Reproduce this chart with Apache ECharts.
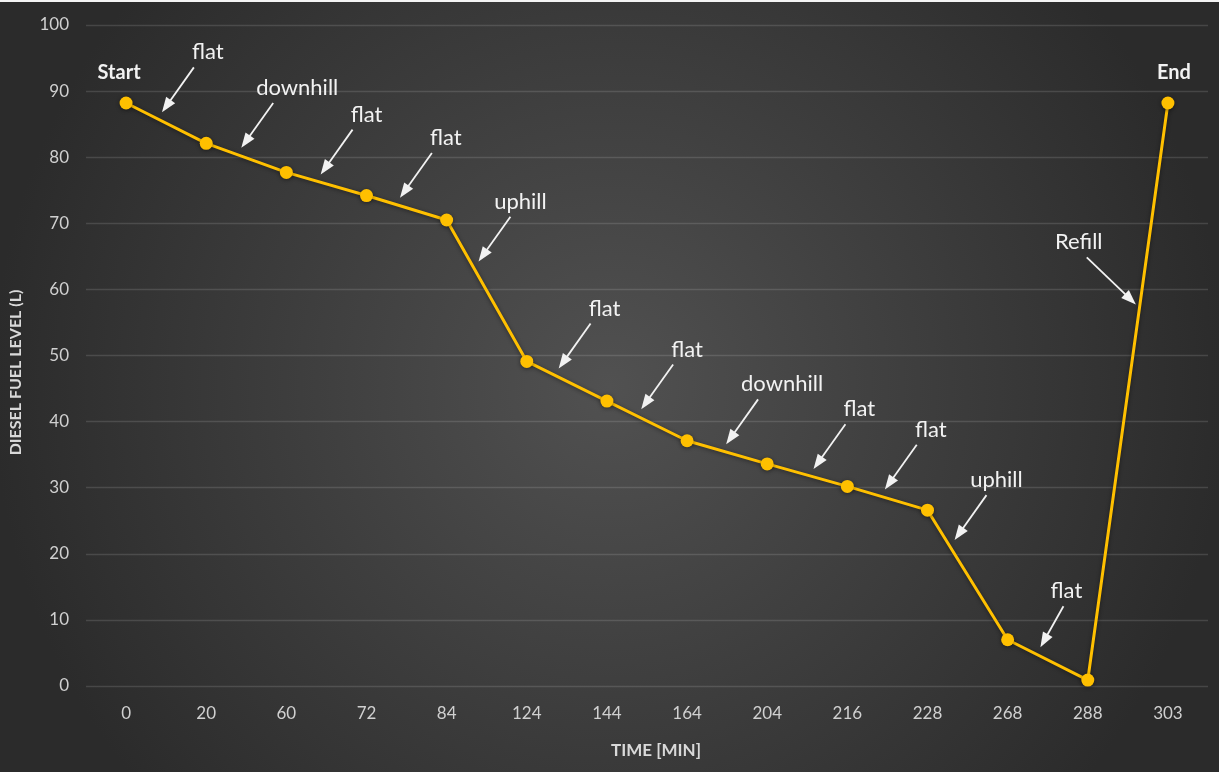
<!DOCTYPE html>
<html>
<head>
<meta charset="utf-8">
<script src="https://cdn.jsdelivr.net/npm/echarts@6/dist/echarts.min.js"></script>
<style>
  html, body { margin: 0; padding: 0; background: #3a3a3a; }
  #chart { width: 1219px; height: 772px; }
</style>
</head>
<body>
<div id="chart"></div>
<script>
// Elapsed time (minutes) at each reading
var timeLabels = ['0', '20', '60', '72', '84', '124', '144', '164', '204', '216', '228', '268', '288', '303'];
// Diesel fuel level (litres) at each reading
var fuelLevel = [88.2, 82.1, 77.7, 74.2, 70.5, 49.1, 43.1, 37.1, 33.6, 30.2, 26.6, 7.0, 0.9, 88.2];
// Terrain notes, each attached to the segment that starts at the given reading
var noteText = ['flat', 'downhill', 'flat', 'flat', 'uphill', 'flat', 'flat', 'downhill', 'flat', 'flat', 'uphill', 'flat', 'Refill'];
var noteSegment = [0, 1, 2, 3, 4, 5, 6, 7, 8, 9, 10, 11, 12];
// Where along each segment the pointer lands (0 = segment start, 1 = end)
var noteAlong = [0.39, 0.38, 0.37, 0.36, 0.34, 0.34, 0.37, 0.43, 0.52, 0.41, 0.28, 0.36, 0.645];

var chart = echarts.init(document.getElementById('chart'));

var LABEL_FONT = 'Lato, "Open Sans", sans-serif';
// horizontal offset of a note's text from the pointer tail
var TEXT_SHIFT = { flat: 14, downhill: 24, uphill: 10, Refill: -8 };

// Pointer geometry: direction (tail -> tip), length, gap before the line
function pointerStyle(k) {
  var shift = TEXT_SHIFT[noteText[k]];
  if (noteText[k] === 'Refill') return { dx: 0.722, dy: 0.692, len: 68, gap: 5, shift: shift };
  if (k === noteText.length - 2) return { dx: -0.49, dy: 0.872, len: 47, gap: 8, shift: 3 };
  return { dx: -0.58, dy: 0.815, len: 55, gap: 8, shift: shift };
}

function renderNote(params, api) {
  var k = params.dataIndex;
  var seg = noteSegment[k];
  var a = api.coord([seg, fuelLevel[seg]]);
  var b = api.coord([seg + 1, fuelLevel[seg + 1]]);
  var t = noteAlong[k];
  var px = a[0] + (b[0] - a[0]) * t;
  var py = a[1] + (b[1] - a[1]) * t;
  var s = pointerStyle(k);
  var dx = s.dx, dy = s.dy;
  var tipX = px - s.gap * dx, tipY = py - s.gap * dy;
  var tailX = tipX - s.len * dx, tailY = tipY - s.len * dy;
  var headLen = 15, headHalf = 5.5;
  var bx = tipX - headLen * dx, by = tipY - headLen * dy;
  var nx = -dy, ny = dx;
  return {
    type: 'group',
    children: [
      {
        type: 'line',
        shape: { x1: tailX, y1: tailY, x2: bx + 3 * dx, y2: by + 3 * dy },
        style: { stroke: '#f2f2f2', lineWidth: 1.8 }
      },
      {
        type: 'polygon',
        shape: { points: [[tipX, tipY], [bx + headHalf * nx, by + headHalf * ny], [bx - headHalf * nx, by - headHalf * ny]] },
        style: { fill: '#f2f2f2' }
      },
      {
        type: 'text',
        style: {
          text: noteText[k],
          x: tailX + s.shift,
          y: tailY - 4,
          fill: '#f2f2f2',
          font: '22px ' + LABEL_FONT,
          align: 'center',
          verticalAlign: 'bottom'
        }
      }
    ]
  };
}

var pointData = fuelLevel.map(function (v, i) {
  var item = { value: v };
  if (i === 0) {
    item.label = { show: true, formatter: 'Start', offset: [-7, -9] };
  } else if (i === fuelLevel.length - 1) {
    item.label = { show: true, formatter: 'End', offset: [6, -9] };
  }
  return item;
});

chart.setOption({
  animation: false,
  backgroundColor: {
    type: 'radial', x: 0.5, y: 0.5, r: 0.8,
    colorStops: [
      { offset: 0, color: '#515151' },
      { offset: 1, color: '#2b2b2b' }
    ]
  },
  graphic: [{
    type: 'rect', left: 0, top: 0, shape: { width: 1219, height: 2 },
    style: { fill: '#f4f4f4' }, silent: true
  }],
  grid: { left: 85, right: 11, top: 25, bottom: 86 },
  xAxis: {
    type: 'category',
    data: timeLabels,
    boundaryGap: true,
    name: 'TIME [MIN]',
    nameLocation: 'middle',
    nameGap: 56,
    nameTextStyle: { color: '#d9d9d9', fontSize: 17, fontWeight: 'bold', fontFamily: LABEL_FONT, padding: [0, 0, 0, 18] },
    axisLine: { show: false },
    axisTick: { show: false },
    axisLabel: { color: '#d0d0d0', fontSize: 17, margin: 19, fontFamily: LABEL_FONT },
    splitLine: { show: false }
  },
  yAxis: {
    type: 'value',
    min: 0, max: 100, interval: 10,
    name: 'DIESEL FUEL LEVEL (L)',
    nameLocation: 'middle',
    nameGap: 62,
    nameRotate: 90,
    nameTextStyle: { color: '#d9d9d9', fontSize: 16, fontWeight: 'bold', fontFamily: LABEL_FONT, padding: [0, 34, 0, 0] },
    axisLine: { show: false },
    axisTick: { show: false },
    axisLabel: { color: '#d0d0d0', fontSize: 17, margin: 17, fontFamily: LABEL_FONT },
    splitLine: { lineStyle: { color: 'rgba(255,255,255,0.13)', width: 1.3 } }
  },
  series: [
    {
      type: 'line',
      data: pointData,
      symbol: 'circle',
      symbolSize: 13,
      lineStyle: { color: '#ffc000', width: 3, shadowColor: 'rgba(0,0,0,0.45)', shadowBlur: 4, shadowOffsetY: 1 },
      itemStyle: { color: '#ffc000', shadowColor: 'rgba(0,0,0,0.45)', shadowBlur: 4, shadowOffsetY: 1 },
      label: {
        show: false,
        position: 'top',
        color: '#f2f2f2',
        fontSize: 20,
        fontWeight: 'bold',
        fontFamily: LABEL_FONT
      },
      z: 3
    },
    {
      type: 'custom',
      renderItem: renderNote,
      data: noteSegment.map(function (s) { return [s, fuelLevel[s]]; }),
      silent: true,
      clip: false,
      z: 4
    }
  ]
});
</script>
</body>
</html>
